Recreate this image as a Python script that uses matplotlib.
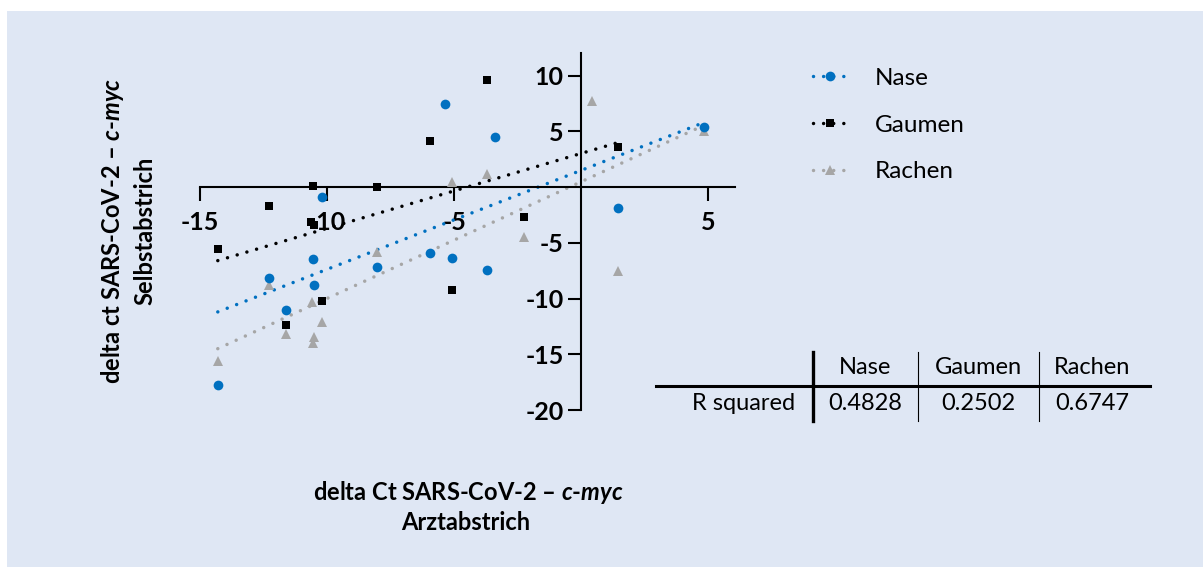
import matplotlib
matplotlib.use("Agg")
import matplotlib.pyplot as plt
from matplotlib.lines import Line2D
from matplotlib.patches import Rectangle

plt.rcParams["font.family"] = ["Lato", "DejaVu Sans"]
plt.rcParams["mathtext.fontset"] = "custom"
plt.rcParams["mathtext.rm"] = "Lato:bold"
plt.rcParams["mathtext.it"] = "Lato:italic:bold"

# Nase (circles)
nase_x = [-10.2, -5.36, -3.41, 4.84, 1.46, -10.55, -12.3, -10.5, -8.05, -11.6, -14.3, -5.94, -5.07, -3.7]
nase_y = [-0.9, 7.42, 4.5, 5.38, -1.86, -6.5, -8.2, -8.8, -7.2, -11.0, -17.8, -5.9, -6.4, -7.4]
# Gaumen (squares)
gaumen_x = [-10.55, -8.05, -12.3, -10.62, -10.5, -3.71, -5.94, -2.24, 1.46, -14.3, -10.2, -11.6, -5.07]
gaumen_y = [0.05, 0.0, -1.7, -3.1, -3.4, 9.58, 4.09, -2.67, 3.58, -5.6, -10.2, -12.4, -9.2]
# Rachen (triangles)
rachen_x = [-5.07, -3.7, -2.24, 0.42, 4.84, -8.05, -12.3, -10.6, -10.2, -11.6, -10.5, -10.55, -14.3, 1.46]
rachen_y = [0.45, 1.17, -4.5, 7.75, 5.0, -5.8, -8.8, -10.3, -12.1, -13.2, -13.45, -13.96, -15.6, -7.5]

# regression lines as drawn (end points)
nase_fit_x = [-14.3, 4.84]
nase_fit_y = [-11.2, 5.8]
gaumen_fit_x = [-14.3, 1.46]
gaumen_fit_y = [-6.6, 4.0]
rachen_fit_x = [-14.3, 4.84]
rachen_fit_y = [-14.5, 5.55]

table_cols = ["Nase", "Gaumen", "Rachen"]
table_row = "R squared"
r_squared = ["0.4828", "0.2502", "0.6747"]

blue = "#0070c0"
gray = "#a6a6a6"
bg = "#dfe7f4"

W, H = 1203, 567
fig = plt.figure(figsize=(W / 100, H / 100), dpi=100)
fig.patch.set_facecolor("white")
fig.patches.append(Rectangle((7 / W, 0), 1, 1 - 11 / H, transform=fig.transFigure,
                             facecolor=bg, edgecolor="none", zorder=-10))

ax = fig.add_axes([200 / W, 1 - 410 / H, 535 / W, (410 - 52.7) / H])
ax.set_facecolor("none")
ax.set_xlim(-15, 6.05)
ax.set_ylim(-20, 12.05)

dots = dict(linestyle=(0, (0.01, 2.9)), linewidth=2.5, dash_capstyle="round")
ax.plot(nase_fit_x, nase_fit_y, color=blue, **dots)
ax.plot(gaumen_fit_x, gaumen_fit_y, color="black", **dots)
ax.plot(rachen_fit_x, rachen_fit_y, color=gray, **dots)

ax.plot(rachen_x, rachen_y, "^", color=gray, markersize=7, markeredgewidth=0, zorder=3)
ax.plot(gaumen_x, gaumen_y, "s", color="black", markersize=6, markeredgewidth=0, zorder=4)
ax.plot(nase_x, nase_y, "o", color=blue, markersize=7, markeredgewidth=0, zorder=5)

for s in ["top", "right"]:
    ax.spines[s].set_visible(False)
ax.spines["left"].set_position(("data", 0))
ax.spines["bottom"].set_position(("data", 0))
ax.spines["left"].set_linewidth(1.5)
ax.spines["bottom"].set_linewidth(1.5)
ax.set_xticks([-15, -10, -5, 5])
ax.set_xticklabels(["-15", "-10", "-5", "5"])
ax.set_yticks([-20, -15, -10, -5, 5, 10])
ax.set_yticklabels(["-20", "-15", "-10", "-5", "5", "10"])
ax.tick_params(axis="x", direction="out", length=10, width=1.5, pad=7, labelsize=18)
ax.tick_params(axis="y", direction="out", length=9.5, width=1.5, pad=3, labelsize=18)
for lab in ax.get_xticklabels() + ax.get_yticklabels():
    lab.set_fontweight("bold")

# axis titles
fig.text(468 / W, 1 - 493 / H, r"delta Ct SARS-CoV-2 – $\mathit{c}$-$\mathit{myc}$",
         ha="center", va="center", fontsize=17, fontweight="bold")
fig.text(466 / W, 1 - 523 / H, "Arztabstrich", ha="center", va="center",
         fontsize=17, fontweight="bold")
fig.text(113 / W, 1 - 231 / H, r"delta ct SARS-CoV-2 – $\mathit{c}$-$\mathit{myc}$",
         ha="center", va="center", rotation=90, fontsize=17, fontweight="bold")
fig.text(145 / W, 1 - 231 / H, "Selbstabstrich", ha="center", va="center",
         rotation=90, fontsize=17, fontweight="bold")

# legend
handles = [
    Line2D([], [], color=blue, marker="o", markersize=7, markeredgewidth=0, **dots),
    Line2D([], [], color="black", marker="s", markersize=6, markeredgewidth=0, **dots),
    Line2D([], [], color=gray, marker="^", markersize=7, markeredgewidth=0, **dots),
]
fig.legend(handles, ["Nase", "Gaumen", "Rachen"], loc="center left",
           bbox_to_anchor=(813 / W, 1 - 125 / H), frameon=False, fontsize=17.5,
           handlelength=1.43, handletextpad=1.1, labelspacing=1.05,
           borderpad=0, borderaxespad=0, numpoints=1)

# R squared table
tab = fig.add_axes([0, 0, 1, 1])
tab.set_xlim(0, W)
tab.set_ylim(H, 0)
tab.axis("off")
tab.plot([656, 1150], [385.5, 385.5], color="black", linewidth=2.2)
tab.plot([813, 813], [352, 421], color="black", linewidth=2.4)
for xv in [918, 1039]:
    tab.plot([xv, xv], [352, 421], color="black", linewidth=0.8)
col_x = [865, 978, 1092]
for cx, name, val in zip(col_x, table_cols, r_squared):
    tab.text(cx, 368, name, ha="center", va="center", fontsize=17)
    tab.text(cx, 403, val, ha="center", va="center", fontsize=17)
tab.text(795, 403, table_row, ha="right", va="center", fontsize=17)

fig.savefig("out.png", dpi=100)
